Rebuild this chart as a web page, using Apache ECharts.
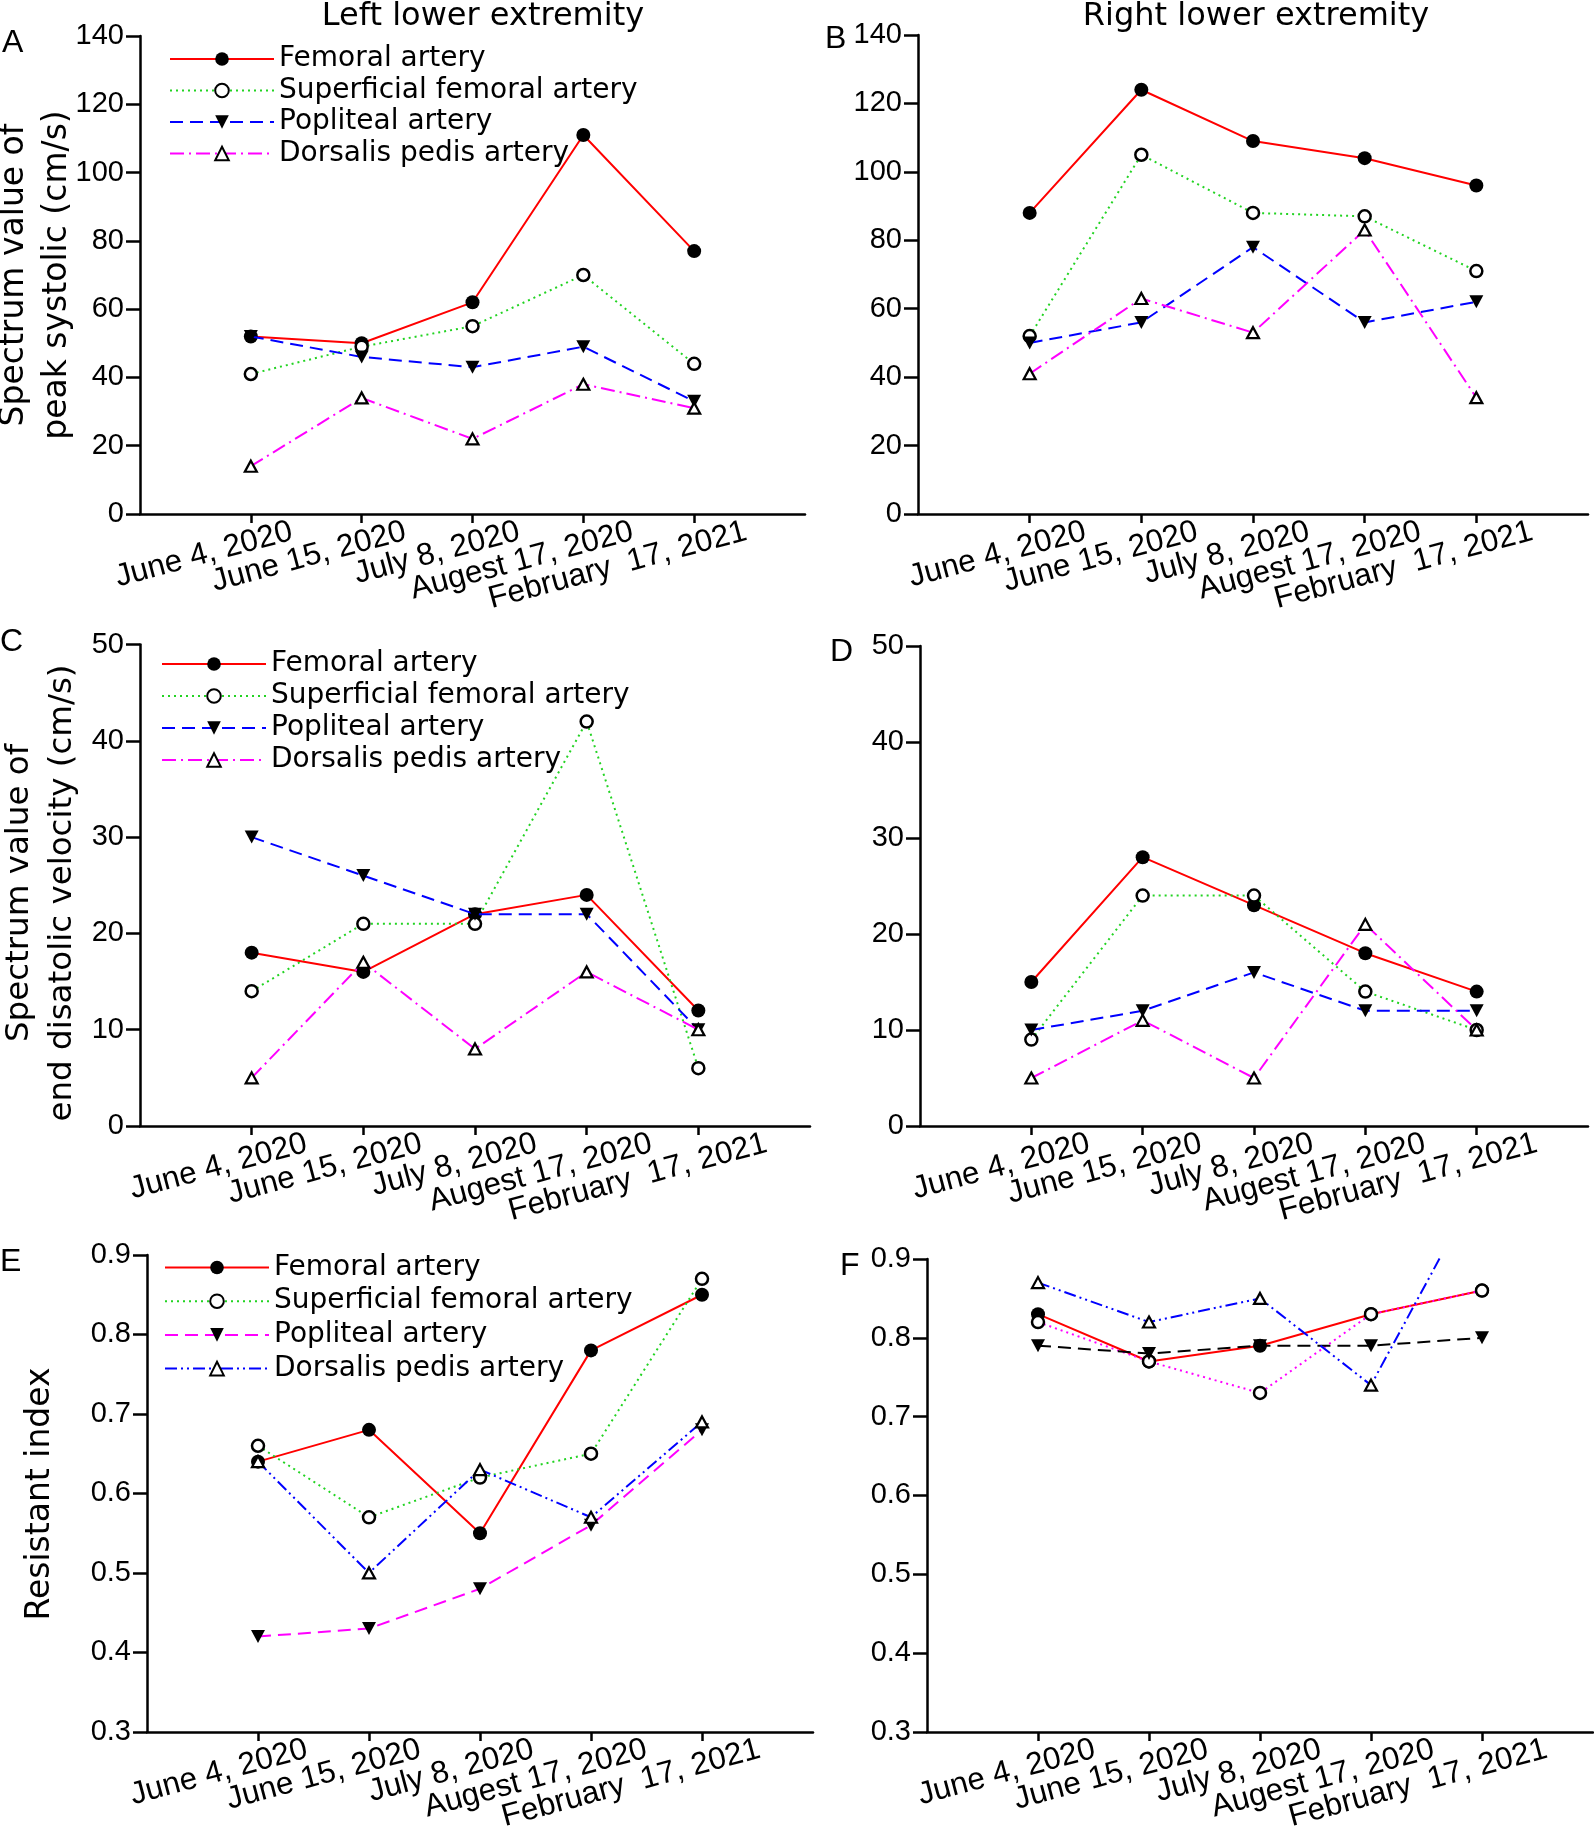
<!DOCTYPE html>
<html><head><meta charset="utf-8">
<script src="https://cdn.jsdelivr.net/npm/echarts@6/dist/echarts.min.js"></script>
<style>html,body{margin:0;padding:0;background:#fff}#chart{width:1594px;height:1834px}</style>
</head><body><div id="chart"></div>
<script>
// ---------- data ----------
const categories = ['June 4, 2020', 'June 15, 2020', 'July 8, 2020', 'Augest 17, 2020', 'February  17, 2021'];
const seriesNames = ['Femoral artery', 'Superficial femoral artery', 'Popliteal artery', 'Dorsalis pedis artery'];

// A: left lower extremity, peak systolic
const leftPeakFemoral     = [52, 50, 62, 111, 77];
const leftPeakSuperficial = [41, 49, 55, 70, 44];
const leftPeakPopliteal   = [52, 46, 43, 49, 33];
const leftPeakDorsalis    = [14, 34, 22, 38, 31];
// B: right lower extremity, peak systolic
const rightPeakFemoral     = [88, 124, 109, 104, 96];
const rightPeakSuperficial = [52, 105, 88, 87, 71];
const rightPeakPopliteal   = [50, 56, 78, 56, 62];
const rightPeakDorsalis    = [41, 63, 53, 83, 34];
// C: left, end diastolic
const leftEndFemoral     = [18, 16, 22, 24, 12];
const leftEndSuperficial = [14, 21, 21, 42, 6];
const leftEndPopliteal   = [30, 26, 22, 22, 10];
const leftEndDorsalis    = [5, 17, 8, 16, 10];
// D: right, end diastolic
const rightEndFemoral     = [15, 28, 23, 18, 14];
const rightEndSuperficial = [9, 24, 24, 14, 10];
const rightEndPopliteal   = [10, 12, 16, 12, 12];
const rightEndDorsalis    = [5, 11, 5, 21, 10];
// E: left, resistant index
const leftRIFemoral     = [0.64, 0.68, 0.55, 0.78, 0.85];
const leftRISuperficial = [0.66, 0.57, 0.62, 0.65, 0.87];
const leftRIPopliteal   = [0.42, 0.43, 0.48, 0.56, 0.68];
const leftRIDorsalis    = [0.64, 0.50, 0.63, 0.57, 0.69];
// F: right, resistant index
const rightRIFemoral     = [0.83, 0.77, 0.79, 0.83, 0.86];
const rightRISuperficial = [0.82, 0.77, 0.73, 0.83, 0.86];
const rightRIPopliteal   = [0.79, 0.78, 0.79, 0.79, 0.80];
const rightRIDorsalis    = [0.87, 0.82, 0.85, 0.74, 1.00];

const peakTicks = [0, 20, 40, 60, 80, 100, 120, 140];
const endTicks = [0, 10, 20, 30, 40, 50];
const riTicks = [0.3, 0.4, 0.5, 0.6, 0.7, 0.8, 0.9];

// ---------- styles ----------
const TICK_FONT = "'Liberation Sans', Arial, sans-serif";
const TEXT_FONT = "'DejaVu Sans', sans-serif";

const mk = {
  filledCircle: {symbol: 'circle', size: 14, rotate: 0, fill: '#000', border: 0},
  openCircle: {symbol: 'circle', size: 12, rotate: 0, fill: '#fff', border: 2.5},
  downTri: {symbol: 'triangle', size: [14, 13], rotate: 180, fill: '#000', border: 0},
  openTri: {symbol: 'triangle', size: [12, 11], rotate: 0, fill: '#fff', border: 2.2}
};
const DOT = [2, 4], DASH = [13, 7], DASHDOT = [14, 5, 2, 5], DASHDOTDOT = [12, 4, 2, 4, 2, 4];
const stylesUpper = [
  {color: '#ff0000', dash: 'solid', m: mk.filledCircle},
  {color: '#22d322', dash: DOT, m: mk.openCircle},
  {color: '#0000ff', dash: DASH, m: mk.downTri},
  {color: '#ff00ff', dash: DASHDOT, m: mk.openTri}
];
const stylesE = [
  {color: '#ff0000', dash: 'solid', m: mk.filledCircle},
  {color: '#22d322', dash: DOT, m: mk.openCircle},
  {color: '#ff00ff', dash: DASH, m: mk.downTri},
  {color: '#0000ff', dash: DASHDOTDOT, m: mk.openTri}
];
const stylesF = [
  {color: '#ff0000', dash: 'solid', m: mk.filledCircle},
  {color: '#ff00ff', dash: DOT, m: mk.openCircle},
  {color: '#000000', dash: DASH, m: mk.downTri},
  {color: '#0000ff', dash: DASHDOTDOT, m: mk.openTri}
];

// label anchor offset (in category units) = base + step * index
const panels = [
  {id: 'A', grid: {left: 140, top: 36, width: 665, height: 478}, ticks: peakTicks, dec: 0, lab: [0.37, 0.025],
   values: [leftPeakFemoral, leftPeakSuperficial, leftPeakPopliteal, leftPeakDorsalis], styles: stylesUpper,
   legend: {left: 169, top: 44, gap: 1.5}},
  {id: 'B', grid: {left: 918, top: 35, width: 670, height: 479}, ticks: peakTicks, dec: 0, lab: [0.50, 0.0],
   values: [rightPeakFemoral, rightPeakSuperficial, rightPeakPopliteal, rightPeakDorsalis], styles: stylesUpper},
  {id: 'C', grid: {left: 140, top: 644.5, width: 670, height: 481.5}, ticks: endTicks, dec: 0, lab: [0.49, 0.03],
   values: [leftEndFemoral, leftEndSuperficial, leftEndPopliteal, leftEndDorsalis], styles: stylesUpper,
   legend: {left: 161, top: 649, gap: 2}},
  {id: 'D', grid: {left: 920, top: 646, width: 668, height: 480}, ticks: endTicks, dec: 0, lab: [0.52, 0.005],
   values: [rightEndFemoral, rightEndSuperficial, rightEndPopliteal, rightEndDorsalis], styles: stylesUpper},
  {id: 'E', grid: {left: 147, top: 1255, width: 666, height: 480}, ticks: riTicks, dec: 1, lab: [0.44, 0.02],
   values: [leftRIFemoral, leftRISuperficial, leftRIPopliteal, leftRIDorsalis], styles: stylesE,
   legend: {left: 164, top: 1252.5, gap: 3.7}},
  {id: 'F', grid: {left: 927, top: 1259, width: 666, height: 479}, ticks: riTicks, dec: 1, lab: [0.51, 0.018],
   values: [rightRIFemoral, rightRISuperficial, rightRIPopliteal, rightRIDorsalis], styles: stylesF}
];

const grids = [], xAxes = [], yAxes = [], series = [], legends = [];
const catPos = categories.map((c, i) => i + 1);

panels.forEach((p, pi) => {
  grids.push(Object.assign({containLabel: false}, p.grid));
  const labelVals = catPos.map((v, i) => v + p.lab[0] + p.lab[1] * i);
  const labelFor = (v) => {
    let best = 0, bd = Infinity;
    labelVals.forEach((lv, i) => { const d = Math.abs(lv - v); if (d < bd) { bd = d; best = i; } });
    return categories[best];
  };
  const labelBase = {
    show: true, rotate: 15, margin: 17,
    interval: 0, showMinLabel: true, showMaxLabel: true, hideOverlap: false,
    fontFamily: TICK_FONT, fontSize: 31.5, color: '#000',
    formatter: labelFor
  };
  // main axis: line, ticks, labels for 1st/3rd/5th categories
  xAxes.push({
    type: 'value', gridIndex: pi, position: 'bottom', min: 0, max: categories.length + 1,
    splitLine: {show: false},
    axisLine: {show: true, onZero: false, lineStyle: {color: '#000', width: 2.5}},
    axisTick: {show: true, customValues: catPos, length: 9, lineStyle: {color: '#000', width: 2.5}},
    axisLabel: Object.assign({}, labelBase, {customValues: labelVals.filter((v, i) => i % 2 === 0)})
  });
  // companion axis on the same scale: labels for 2nd/4th categories
  xAxes.push({
    type: 'value', gridIndex: pi, position: 'bottom', offset: 0, min: 0, max: categories.length + 1,
    splitLine: {show: false},
    axisLine: {show: false, onZero: false},
    axisTick: {show: false},
    axisLabel: Object.assign({}, labelBase, {customValues: labelVals.filter((v, i) => i % 2 === 1)})
  });
  const t = p.ticks;
  yAxes.push({
    type: 'value', gridIndex: pi, min: t[0], max: t[t.length - 1],
    interval: +(t[1] - t[0]).toFixed(4),
    splitLine: {show: false},
    axisLine: {show: true, onZero: false, lineStyle: {color: '#000', width: 2.5}},
    axisTick: {show: true, length: 14, lineStyle: {color: '#000', width: 2.5}},
    axisLabel: {margin: 16, fontFamily: TICK_FONT, fontSize: 29, color: '#000',
      showMinLabel: true, showMaxLabel: true,
      formatter: (v) => Number(v).toFixed(p.dec)}
  });
  const names = [];
  seriesNames.forEach((n, si) => {
    const st = p.styles[si];
    const name = n + '|' + p.id;
    names.push(name);
    series.push({
      type: 'line', name: name, xAxisIndex: 2 * pi, yAxisIndex: pi,
      data: p.values[si].map((v, j) => [catPos[j], v]),
      clip: true,
      symbol: st.m.symbol, symbolSize: st.m.size, symbolRotate: st.m.rotate, showAllSymbol: true,
      lineStyle: {color: st.color, width: 2, type: st.dash},
      itemStyle: {color: st.m.fill, borderColor: '#000', borderWidth: st.m.border},
      emphasis: {disabled: true},
      z: 2 + si
    });
  });
  if (p.legend) {
    legends.push({
      data: names, orient: 'vertical', left: p.legend.left, top: p.legend.top,
      padding: 0, itemGap: p.legend.gap, itemWidth: 104, itemHeight: 17,
      selectedMode: false,
      formatter: (n) => n.split('|')[0],
      textStyle: {fontFamily: TEXT_FONT, fontSize: 28, color: '#000', lineHeight: 30}
    });
  }
});

function txt(text, x, y, font, align, rot, lineHeight) {
  return {type: 'text', x: x, y: y, rotation: rot || 0, silent: true,
    style: {text: text, font: font, fill: '#000', textAlign: align || 'left', textVerticalAlign: 'middle',
      lineHeight: lineHeight || undefined}};
}
const graphics = [
  txt('Left lower extremity', 483, 17, "32px 'DejaVu Sans'", 'center'),
  txt('Right lower extremity', 1256, 17, "32px 'DejaVu Sans'", 'center'),
  txt('A', 2, 43.5, "32px 'Liberation Sans'"),
  txt('B', 825, 39.5, "32px 'Liberation Sans'"),
  txt('C', 0, 642, "32px 'Liberation Sans'"),
  txt('D', 830, 652, "32px 'Liberation Sans'"),
  txt('E', 0, 1262.5, "32px 'Liberation Sans'"),
  txt('F', 840, 1266.5, "32px 'Liberation Sans'"),
  txt('Spectrum value of\npeak systolic (cm/s)', 36, 275, "33px 'DejaVu Sans'", 'center', Math.PI / 2, 43),
  txt('Spectrum value of\nend disatolic velocity (cm/s)', 41, 893, "32.5px 'DejaVu Sans'", 'center', Math.PI / 2, 43.5),
  txt('Resistant index', 40, 1494, "33px 'DejaVu Sans'", 'center', Math.PI / 2)
];

const chart = echarts.init(document.getElementById('chart'), null, {renderer: 'canvas', width: 1594, height: 1834});
chart.setOption({
  animation: false,
  backgroundColor: '#fff',
  grid: grids, xAxis: xAxes, yAxis: yAxes, series: series, legend: legends,
  graphic: {elements: graphics}
});
</script>
</body></html>
